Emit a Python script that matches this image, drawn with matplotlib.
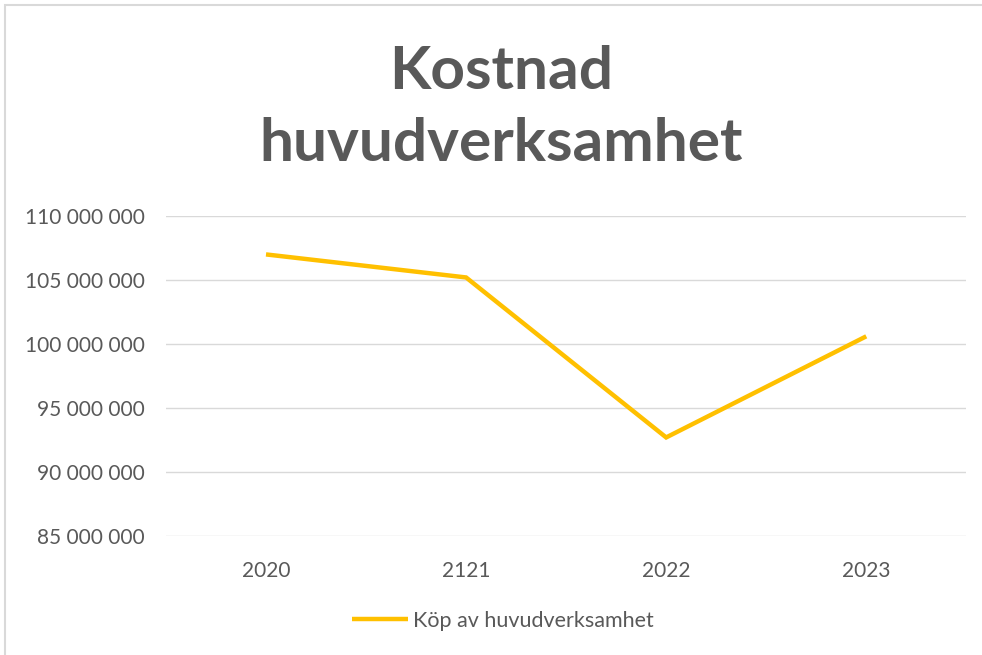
import matplotlib
matplotlib.use("Agg")
import matplotlib.pyplot as plt
from matplotlib.patches import Rectangle
from matplotlib.ticker import FuncFormatter

# Kostnad per år
years = ["2020", "2121", "2022", "2023"]
kostnad = [107_000_000, 105_200_000, 92_700_000, 100_600_000]
serie_namn = "Köp av huvudverksamhet"
titel = "Kostnad\nhuvudverksamhet"

plt.rcParams["font.family"] = ["Lato", "DejaVu Sans"]
textfarg = "#595959"

fig = plt.figure(figsize=(9.82, 6.55), dpi=100)
ax = fig.add_axes([0.169, 0.1817, 0.815, 0.4885])

x = range(len(years))
ax.plot(x, kostnad, color="#FFC000", lw=3.2, solid_joinstyle="miter",
        solid_capstyle="butt", label=serie_namn, zorder=3)

ax.set_xlim(-0.5, len(years) - 0.5)
ax.set_ylim(85_000_000, 110_000_000)
ax.set_yticks(range(85_000_000, 110_000_001, 5_000_000))
ax.yaxis.set_major_formatter(FuncFormatter(lambda v, p: f"{int(v):,}".replace(",", " ")))
ax.set_xticks(list(x))
ax.set_xticklabels(years)

ax.grid(axis="y", color="#D9D9D9", lw=1)
ax.set_axisbelow(True)
for s in ax.spines.values():
    s.set_visible(False)
ax.tick_params(length=0, labelsize=15, labelcolor=textfarg)
ax.tick_params(axis="y", pad=15)
ax.tick_params(axis="x", pad=18)

fig.text(0.51, 0.835, titel, ha="center", va="center", fontsize=43.5,
         fontweight="bold", color=textfarg, linespacing=1.4)

leg = fig.legend(loc="center", bbox_to_anchor=(0.512, 0.052), frameon=False,
                 fontsize=15.5, handlelength=2.6, handletextpad=0.2)
for t in leg.get_texts():
    t.set_color(textfarg)

# ram runt diagrammet
fig.patches.append(Rectangle((0.005, -0.1), 1.2, 1.092, transform=fig.transFigure,
                             fill=False, edgecolor="#D9D9D9", lw=1.5))

fig.savefig("out.png", dpi=100)
